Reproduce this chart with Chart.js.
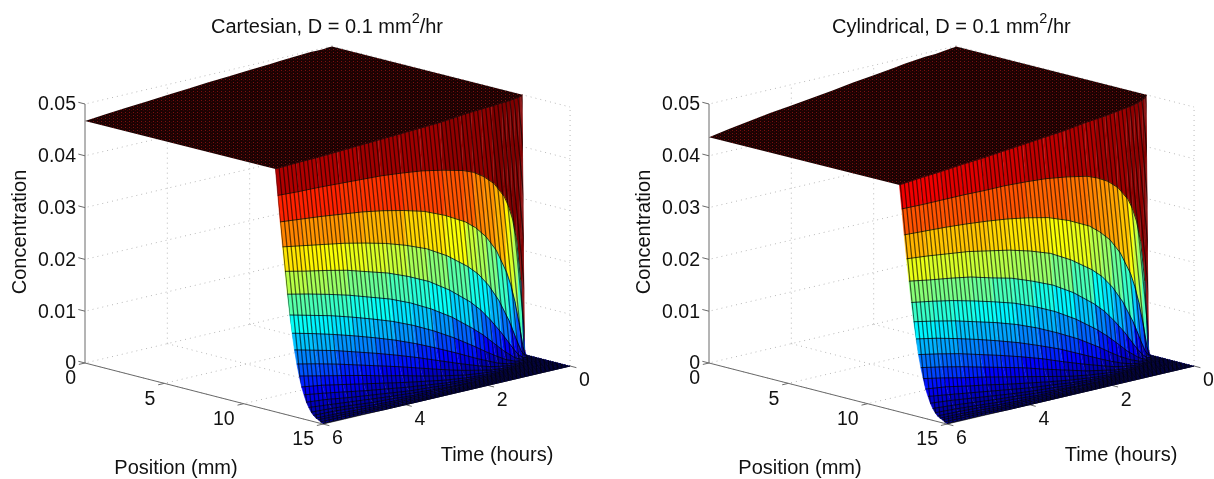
<!DOCTYPE html>
<html><head><meta charset="utf-8">
<script src="https://cdn.jsdelivr.net/npm/chart.js@4"></script>
<style>
html,body{margin:0;padding:0;background:#fff;overflow:hidden}
#a,#b{position:absolute;top:0}
#a{left:0}#b{left:607px}
</style></head><body>
<canvas id="a" width="607" height="479"></canvas>
<canvas id="b" width="607" height="479"></canvas>
<script>
// ---- axis ticks
const positionTicks=[0,5,10,15];
const timeTicks=[6,4,2,0];
const concentrationTicks=[0,0.01,0.02,0.03,0.04,0.05];
// ---- mesh coordinates
const timeColumns=[0,.02,.05,.1,.2,.3,.4,.5,.75,1,1.25,1.5,2,2.5,3,3.5,4,4.5,5,5.5,6];
const positionRows=[12,12.15,12.3,12.45,12.6,12.75,12.9,13.05,13.2,13.35,13.5,13.65,13.8,13.95,14.1,14.25,14.4,14.55,14.7,14.85,15];
// ---- concentration, in units of 0.0001, one row per position
const cartesianAtZero=[499,499,499,499,498,498,498,498,497,496,495,493,491,488,486,483,480,477,474,471,467];
const cartesianRows=[
[500,499,498,497,496,495,494,494,492,491,490,488,484,482,480,478,476,474,472,471,469],
[0,9,67,144,225,267,294,314,344,362,375,383,393,401,406,410,412,414,416,417,419],
[0,0,1,17,66,109,143,169,216,247,269,285,307,324,335,344,351,356,361,365,369],
[0,0,0,1,12,33,55,77,121,155,181,200,230,253,269,282,292,301,308,315,322],
[0,0,0,0,1,7,17,29,60,88,113,133,165,191,210,226,238,250,259,267,276],
[0,0,0,0,0,1,4,9,26,46,66,83,114,139,160,177,190,203,214,224,233],
[0,0,0,0,0,0,1,2,10,22,35,49,75,98,118,135,149,162,174,184,194],
[0,0,0,0,0,0,0,0,3,9,18,27,47,66,84,100,114,127,139,150,160],
[0,0,0,0,0,0,0,0,1,4,8,14,28,43,58,72,85,97,109,119,129],
[0,0,0,0,0,0,0,0,0,1,3,7,16,27,39,51,62,73,84,94,103],
[0,0,0,0,0,0,0,0,0,0,1,3,8,16,25,35,44,54,63,72,81],
[0,0,0,0,0,0,0,0,0,0,0,1,4,9,16,23,31,39,47,55,61],
[0,0,0,0,0,0,0,0,0,0,0,0,2,5,10,15,21,27,34,41,47],
[0,0,0,0,0,0,0,0,0,0,0,0,1,3,6,9,14,19,24,30,34],
[0,0,0,0,0,0,0,0,0,0,0,0,0,1,3,6,9,13,17,21,25],
[0,0,0,0,0,0,0,0,0,0,0,0,0,1,2,3,6,8,12,15,17],
[0,0,0,0,0,0,0,0,0,0,0,0,0,0,1,2,3,5,8,11,12],
[0,0,0,0,0,0,0,0,0,0,0,0,0,0,0,1,2,3,5,7,8],
[0,0,0,0,0,0,0,0,0,0,0,0,0,0,0,0,1,2,3,5,6],
[0,0,0,0,0,0,0,0,0,0,0,0,0,0,0,0,0,1,2,3,3],
[0,0,0,0,0,0,0,0,0,0,0,0,0,0,0,0,0,0,1,1,1]];
const cylindricalAtZero=[499,499,498,498,497,496,495,494,493,491,489,486,481,476,470,465,460,455,449,443,436];
const cylindricalRows=[
[500,497,494,492,489,487,485,484,481,478,476,474,468,464,460,456,452,449,445,442,438],
[0,9,66,143,222,263,289,308,336,353,364,372,380,386,389,391,391,392,392,392,393],
[0,0,1,17,65,107,140,166,211,241,261,277,297,312,321,328,333,337,340,342,344],
[0,0,0,1,12,32,54,75,118,151,176,194,222,244,258,269,277,285,290,295,299],
[0,0,0,0,1,7,17,28,59,86,110,129,160,184,201,216,226,237,244,250,257],
[0,0,0,0,0,1,4,9,25,45,64,81,110,134,153,169,181,192,202,210,217],
[0,0,0,0,0,0,1,2,10,21,34,48,73,94,113,129,142,153,164,173,181],
[0,0,0,0,0,0,0,0,3,9,17,26,45,64,80,95,108,120,131,141,149],
[0,0,0,0,0,0,0,0,1,4,8,14,27,41,56,69,81,92,103,112,120],
[0,0,0,0,0,0,0,0,0,1,3,7,15,26,37,49,59,69,79,88,96],
[0,0,0,0,0,0,0,0,0,0,1,3,8,15,24,33,42,51,59,68,76],
[0,0,0,0,0,0,0,0,0,0,0,1,4,9,15,22,29,37,44,52,57],
[0,0,0,0,0,0,0,0,0,0,0,0,2,5,10,14,20,26,32,38,44],
[0,0,0,0,0,0,0,0,0,0,0,0,1,3,6,9,13,18,23,28,32],
[0,0,0,0,0,0,0,0,0,0,0,0,0,1,3,6,9,12,16,20,23],
[0,0,0,0,0,0,0,0,0,0,0,0,0,1,2,3,6,8,11,14,16],
[0,0,0,0,0,0,0,0,0,0,0,0,0,0,1,2,3,5,8,10,11],
[0,0,0,0,0,0,0,0,0,0,0,0,0,0,0,1,2,3,5,7,8],
[0,0,0,0,0,0,0,0,0,0,0,0,0,0,0,0,1,2,3,5,6],
[0,0,0,0,0,0,0,0,0,0,0,0,0,0,0,0,0,1,2,3,3],
[0,0,0,0,0,0,0,0,0,0,0,0,0,0,0,0,0,0,1,1,1]];

const UNIT=1e-4, ZMAX=0.05;
const FONT='"Liberation Sans", Arial, sans-serif';

function jet(v){
  v=Math.max(0,Math.min(1,v));
  v=Math.floor(v*63.999)/63;
  const c=f=>Math.round(255*Math.max(0,Math.min(1,f)));
  return `rgb(${c(1.5-Math.abs(4*v-3))},${c(1.5-Math.abs(4*v-2))},${c(1.5-Math.abs(4*v-1))})`;
}
function plateauPattern(){
  const c=document.createElement('canvas');c.width=4;c.height=3;
  const x=c.getContext('2d');
  x.fillStyle='#1c0202';x.fillRect(0,0,4,3);
  x.fillStyle='#7a1010';x.fillRect(1,1,1,1);
  x.fillStyle='#3e0606';x.fillRect(3,2,1,1);
  return x.createPattern(c,'repeat');
}
function stripePattern(){
  const W=25,H=42,P=W/6;
  const c=document.createElement('canvas');c.width=W;c.height=H;
  const x=c.getContext('2d');
  x.strokeStyle='rgba(0,0,0,0.62)';x.lineWidth=1.25;
  for(let i=-2;i<9;i++){x.beginPath();x.moveTo(i*P,0);x.lineTo((i+1)*P,H);x.stroke();}
  return x.createPattern(c,'repeat');
}

function build(id,title,rows,atZero,dx){
  const project=(p,t,z)=>({
    x:dx+85+15.87*p+41.17*(6-t),
    y:363+4.07*p-9.67*(6-t)-5180*z
  });
  const ds=[];
  const line=(pts,color,width,dash)=>ds.push({data:pts,showLine:true,fill:false,borderColor:color,borderWidth:width,borderDash:dash||[],pointRadius:0,tension:0});
  const poly=(pts,color,edge)=>ds.push({data:pts,showLine:true,fill:'shape',backgroundColor:color,borderColor:edge||color,borderWidth:edge===undefined?0.6:0,pointRadius:0,tension:0});
  const dot=[1,4], gridC='#b8b8b8';
  // back walls and floor
  const pAll=[0,5,10,15], tAll=[0,2,4,6];
  pAll.forEach(p=>line([project(p,0,0),project(p,6,0)],gridC,1,dot));
  tAll.forEach(t=>line([project(0,t,0),project(15,t,0)],gridC,1,dot));
  concentrationTicks.slice(1).forEach(z=>{
    line([project(0,0,z),project(0,6,z)],gridC,1,dot);
    line([project(0,0,z),project(15,0,z)],gridC,1,dot);
  });
  [0,2,4].forEach(t=>line([project(0,t,0),project(0,t,ZMAX)],gridC,1,dot));
  [5,10,15].forEach(p=>line([project(p,0,0),project(p,0,ZMAX)],gridC,1,dot));
  // axes and ticks
  const axC='#6a6a6a';
  line([project(0,6,0),project(15,6,0)],axC,1);
  line([project(15,6,0),project(15,0,0)],axC,1);
  line([project(0,6,0),project(0,6,ZMAX)],axC,1);
  positionTicks.forEach(p=>line([project(p,6,0),project(p,6.15,0)],axC,1));
  timeTicks.forEach(t=>line([project(15,t,0),project(15.4,t,0)],axC,1));
  concentrationTicks.forEach(z=>line([project(0,6,z),project(-0.42,6,z)],axC,1));
  // plateau
  const n=timeColumns.length;
  const upper=timeColumns.map((t,i)=>project(0,t,atZero[i]*UNIT));
  const lower=timeColumns.map((t,i)=>project(positionRows[0],t,rows[0][i]*UNIT)).reverse();
  poly(upper.concat(lower),plateauPattern(),null);
  // falling face: far bands first, each cell one colour
  for(let k=0;k<rows.length-1;k++){
    for(let i=0;i<n-1;i++){
      const a=positionRows[k],b=positionRows[k+1],t0=timeColumns[i],t1=timeColumns[i+1];
      const col=jet((k===0?rows[k][i]:rows[k][i+1])*UNIT/ZMAX);
      poly([project(a,t0,rows[k][i]*UNIT),project(a,t1,rows[k][i+1]*UNIT),
            project(b,t1,rows[k+1][i+1]*UNIT),project(b,t0,rows[k+1][i]*UNIT)],col);
    }
  }
  // mesh stripes across the whole face
  const top=timeColumns.map((t,i)=>project(positionRows[0],t,rows[0][i]*UNIT));
  const side=positionRows.map((p,k)=>project(p,6,rows[k][n-1]*UNIT));
  const bottom=timeColumns.map((t,i)=>project(15,t,rows[rows.length-1][i]*UNIT)).reverse();
  const closing=[project(positionRows[1],0,rows[1][0]*UNIT)];
  poly(top.concat(side,bottom,closing),stripePattern(),null);
  // constant-position mesh lines
  rows.forEach((r,k)=>line(timeColumns.map((t,i)=>project(positionRows[k],t,r[i]*UNIT)),'rgba(0,0,0,0.85)',0.9));
  ds.reverse();

  const textPlugin={id:'text3d',afterDraw(c){
    const x=c.ctx;x.save();x.fillStyle='#111';x.textBaseline='middle';
    const px=pt=>({x:c.scales.x.getPixelForValue(pt.x),y:c.scales.y.getPixelForValue(pt.y)});
    x.font='19.5px '+FONT;
    x.textAlign='right';
    concentrationTicks.forEach(z=>{const q=px(project(0,6,z));x.fillText(String(z),q.x-9,q.y+1);});
    positionTicks.forEach(p=>{const q=px(project(p,6,0));x.fillText(String(p),q.x-9,q.y+16);});
    x.textAlign='left';
    timeTicks.forEach(t=>{const q=px(project(15,t,0));x.fillText(String(t),q.x+9,q.y+15);});
    x.font='20px '+FONT;
    x.textAlign='center';
    x.fillText('Position (mm)',dx+176,468);
    x.fillText('Time (hours)',dx+497,455);
    x.save();x.translate(dx+20,232);x.rotate(-Math.PI/2);x.fillText('Concentration',0,0);x.restore();
    x.textAlign='left';
    x.font='20px '+FONT;
    let tx=dx+title.x;
    x.fillText(title.a,tx,27);tx+=x.measureText(title.a).width;
    x.font='14.5px '+FONT;
    x.fillText('2',tx,19);tx+=x.measureText('2').width;
    x.font='20px '+FONT;
    x.fillText('/hr',tx,27);
    x.restore();
  }};

  new Chart(document.getElementById(id),{
    type:'scatter',
    data:{datasets:ds},
    plugins:[textPlugin],
    options:{
      responsive:false,animation:false,events:[],
      layout:{padding:0},
      scales:{
        x:{type:'linear',display:false,min:0,max:607,offset:false},
        y:{type:'linear',display:false,min:0,max:479,reverse:true,offset:false}
      },
      plugins:{legend:{display:false},tooltip:{enabled:false},title:{display:false}}
    }
  });
}
build('a',{a:'Cartesian, D = 0.1 mm',x:211},cartesianRows,cartesianAtZero,0);
build('b',{a:'Cylindrical, D = 0.1 mm',x:208},cylindricalRows,cylindricalAtZero,17);
</script>
</body></html>
